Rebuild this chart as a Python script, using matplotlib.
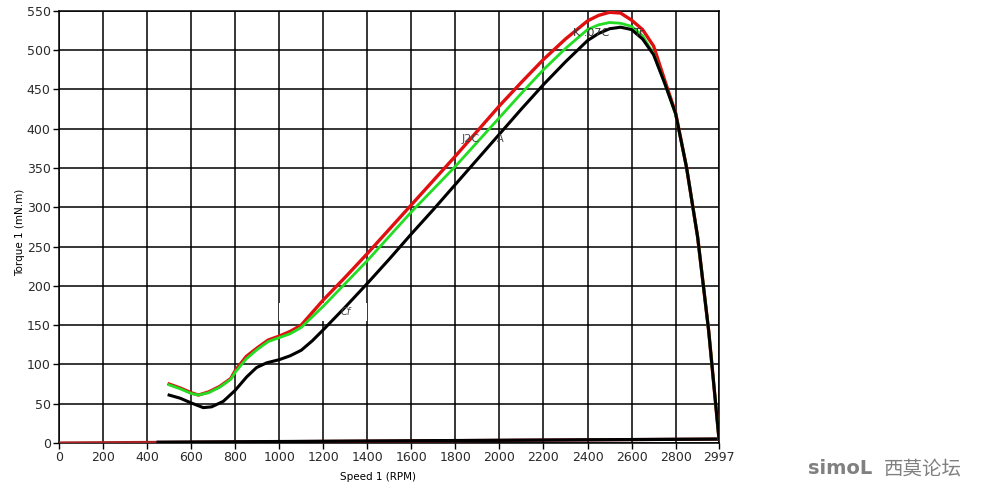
import matplotlib
matplotlib.use("Agg")
import matplotlib.pyplot as plt
from matplotlib.patches import Rectangle

# ---- data ----
red_rpm = [500, 550, 600, 633, 680, 730, 780, 800, 850, 900, 950, 1000, 1050, 1100,
           1200, 1300, 1400, 1500, 1600, 1700, 1800, 1900, 2000, 2100, 2200, 2300,
           2400, 2450, 2500, 2550, 2600, 2650, 2700, 2750, 2800, 2850, 2900, 2950, 2997]
red_torque = [75, 70, 64, 61, 65, 72, 82, 92, 110, 121, 131, 136, 142, 150,
              182, 211, 241, 272, 303, 334, 365, 397, 429, 459, 488, 514,
              537, 544, 548, 547, 538, 526, 505, 462, 420, 350, 262, 143, 5]

green_rpm = [500, 550, 600, 633, 680, 730, 780, 800, 850, 900, 950, 1000, 1050, 1100,
             1200, 1300, 1400, 1500, 1600, 1700, 1800, 1900, 2000, 2100, 2200, 2300,
             2400, 2450, 2500, 2550, 2600, 2650, 2700, 2750, 2800, 2850, 2900, 2950, 2997]
green_torque = [74, 69, 63, 61, 64, 71, 81, 90, 107, 119, 129, 134, 139, 147,
                174, 203, 232, 263, 294, 323, 352, 383, 414, 445, 475, 502,
                526, 532, 535, 534, 530, 518, 495, 458, 418, 350, 262, 143, 5]

black_rpm = [500, 550, 600, 655, 693, 746, 800, 852, 897, 943, 1000, 1050, 1100, 1150,
             1200, 1300, 1400, 1500, 1600, 1700, 1800, 1900, 2000, 2100, 2200, 2300,
             2400, 2450, 2500, 2550, 2600, 2650, 2700, 2750, 2800, 2850, 2900, 2950, 2997]
black_torque = [61, 57, 51, 45, 46, 53, 67, 84, 96, 102, 106, 111, 118, 130,
                144, 173, 203, 234, 266, 297, 329, 361, 393, 425, 456, 485,
                512, 521, 527, 529, 526, 514, 494, 458, 419, 350, 262, 143, 5]

red_return_rpm = [2997, 0]
red_return_torque = [5, 0]
black_return_rpm = [2997, 450]
black_return_torque = [5, 1]

x_ticks = [0, 200, 400, 600, 800, 1000, 1200, 1400, 1600, 1800, 2000, 2200, 2400, 2600, 2800, 2997]
y_ticks = [0, 50, 100, 150, 200, 250, 300, 350, 400, 450, 500, 550]

# ---- figure ----
fig = plt.figure(figsize=(9.96, 4.88), dpi=100)
ax = fig.add_axes([59/996, 45/488, 660/996, 432.3/488])
ax.set_xlim(0, 2997)
ax.set_ylim(0, 550)
ax.set_xticks(x_ticks)
ax.set_yticks(y_ticks)
ax.tick_params(axis='both', labelsize=9, length=4, width=1, colors='black',
               labelcolor='#2a2a2a', pad=2)
ax.grid(True, color='black', linewidth=1.1)
ax.set_axisbelow(True)
for s in ax.spines.values():
    s.set_color('black')
    s.set_linewidth(1.1)

# erased patch (white) as in reference
ax.add_patch(Rectangle((1000, 155), 400, 23, facecolor='white', edgecolor='none', zorder=1.5))

ax.plot(red_return_rpm, red_return_torque, color='#a82020', lw=2.3, zorder=3)
ax.plot(black_return_rpm, black_return_torque, color='black', lw=2.3, zorder=3.1)
ax.plot(red_rpm, red_torque, color='#e01010', lw=2.4, zorder=4)
ax.plot(green_rpm, green_torque, color='#22dd22', lw=2.0, zorder=5)
ax.plot(black_rpm, black_torque, color='black', lw=2.2, zorder=6)

# residual annotation fragments
ax.text(1830, 383, "J2C", fontsize=8, color='#444444', zorder=7)
ax.text(1990, 383, "A", fontsize=7, color='#444444', zorder=7)
ax.text(2335, 518, "K .07C", fontsize=8, color='#333333', zorder=7)
ax.text(2610, 518, "Tr", fontsize=8, color='#333333', zorder=7)
ax.text(1280, 163, "Cf", fontsize=7, color='#444444', style='italic', zorder=7)

fig.text(378/996, 1 - 477/488, "Speed 1 (RPM)", fontsize=7.5, ha='center', va='center')
fig.text(20/996, 1 - 232/488, "Torque 1 (mN.m)", fontsize=7.5, ha='center', va='center',
         rotation=90)

# watermark
fig.text(808/996, 1 - 469/488, "simoL", fontsize=14, fontweight='bold', color='#808080',
         ha='left', va='center', family=['DejaVu Sans'])
fig.text(884/996, 1 - 469/488, "西莫论坛", fontsize=14, color='#808080',
         ha='left', va='center', family=['Noto Sans CJK SC', 'DejaVu Sans'])

fig.savefig("out.png", dpi=100, facecolor='white')
